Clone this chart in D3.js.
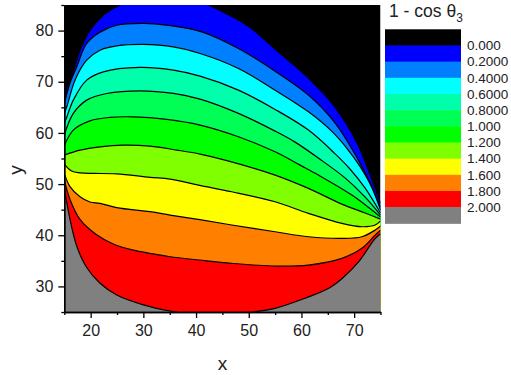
<!DOCTYPE html>
<html>
<head>
<meta charset="utf-8">
<script src="https://cdn.jsdelivr.net/npm/d3@7"></script>
<style>
  body { margin: 0; background: #fff; }
  svg { display: block; font-family: Arial, "Liberation Sans", sans-serif; }
</style>
</head>
<body>
<svg id="chart" width="511" height="375"></svg>
<script>

// contour levels of 1 - cos θ3 (legend labels as printed)
const levelLabels = ["0.000", "0.2000", "0.4000", "0.6000", "0.8000", "1.000",
                     "1.200", "1.400", "1.600", "1.800", "2.000"];

// band colours, from below 0.000 (black) to above 2.000 (gray)
const bandColors = ["#000000", "#0000ff", "#0080ff", "#00ffff", "#00ffaa", "#00ff55",
                    "#00ff00", "#80ff00", "#ffff00", "#ff8000", "#ff0000", "#808080"];

// contour lines, [x, y] pairs
const line000 = [[15, 66.8], [15.5, 68.8], [16.4, 71.0], [18.0, 76.2], [19.9, 80.1], [22.4, 83.0],
  [25.6, 85.0], [30, 86.5], [35, 86.8], [40, 86.0], [43.61, 84.4], [49.93, 80.86], [55, 76.37],
  [61.33, 70.7], [66.4, 65.0], [70.58, 58.0], [73.04, 51.76], [75, 46.3]];
const line020 = [[15, 65.5], [16.0, 69.5], [17.35, 72.9], [19.25, 77.5], [21.78, 79.7], [24.95, 81.05],
  [30.0, 81.4], [34.44, 81.05], [41.09, 79.75], [48.04, 76.5], [55.0, 72.07], [61.33, 67.38],
  [66.4, 61.91], [70.58, 55.08], [73.04, 50.2], [75, 45.5]];
const line040 = [[15, 63.8], [15.5, 65.2], [17.03, 70.31], [19.25, 74.22], [21.78, 76.17], [24.95, 77.0],
  [30.0, 77.29], [35.7, 76.82], [40.76, 75.53], [48.04, 72.6], [55.0, 68.36], [61.33, 64.12],
  [65.77, 60.3], [68.62, 57.0], [71.14, 53.4], [73.42, 49.2], [75, 44.9]];
const line060 = [[15, 61.9], [15.3, 62.6], [16.71, 66.41], [19.25, 70.31], [22.4, 71.93], [29.37, 72.79],
  [35.7, 72.27], [40.76, 71.09], [48.04, 68.36], [55.0, 64.59], [61.33, 60.55], [66.4, 55.9],
  [69.24, 52.9], [72.09, 49.2], [75, 44.34]];
const line080 = [[15, 59.6], [16.71, 63.81], [19.25, 66.41], [23.05, 67.71], [29.37, 68.22], [35.7, 67.71],
  [40.76, 66.6], [48.04, 63.81], [55.0, 60.35], [58.8, 58.2], [63.2, 55.08], [68.32, 51.17],
  [72.09, 47.46], [75, 43.95]];
const line100 = [[15, 57.5], [16.71, 60.55], [19.88, 62.36], [23.68, 63.03], [28.1, 63.14], [34.44, 62.64],
  [40.76, 61.52], [48.04, 59.24], [55.0, 56.31], [59.75, 53.7], [63.22, 51.76], [69.57, 47.85],
  [73.36, 44.92], [75, 43.55]];
const line120 = [[15, 55.66], [17.98, 56.64], [21.78, 57.29], [26.2, 57.62], [31.27, 57.42], [36.34, 56.64],
  [40.76, 55.86], [45.51, 54.69], [55.0, 51.76], [61.33, 49.16], [67.67, 46.09], [72.09, 44.34],
  [75, 43.16]];
const line140 = [[15, 53.9], [16.4, 52.54], [17.98, 52.2], [20.51, 52.09], [24.95, 52.0], [31.27, 51.31],
  [35.07, 50.98], [40.44, 49.8], [46.78, 48.5], [55.0, 46.54], [61.33, 44.28], [67.67, 42.32],
  [71.46, 41.66], [74.0, 41.99], [75, 42.8]];
const line160 = [[15, 52.1], [16.08, 49.5], [17.98, 47.52], [19.88, 46.5], [21.78, 46.23], [24.95, 45.4],
  [31.27, 44.6], [35.07, 43.95], [40.44, 43.1], [46.78, 42.0], [55.0, 40.68], [61.33, 39.71],
  [67.67, 39.39], [71.46, 39.71], [74.0, 41.02], [75, 41.8]];
const line180 = [[15, 50.8], [16.08, 47.0], [17.98, 43.1], [21.0, 40.2], [24.3, 38.3], [28.1, 37.1],
  [31.27, 36.46], [35.07, 35.8], [40.6, 35.16], [46.78, 34.51], [55.0, 33.98], [61.33, 34.18],
  [67.67, 35.49], [71.46, 37.44], [74.0, 40.04], [75, 41.0]];
const line200 = [[15, 49.2], [16.08, 43.1], [17.35, 37.9], [19.25, 33.7], [21.78, 30.61], [24.95, 28.32],
  [30.0, 26.4], [35.07, 25.2], [40, 24.5], [45, 24.3], [50.83, 25.0], [55.0, 25.72], [59.75, 27.34],
  [65.45, 29.8], [67.67, 31.5], [71.0, 35.0], [73.85, 39.2], [75, 40.3]];

const contours = [line000, line020, line040, line060, line080, line100,
                  line120, line140, line160, line180, line200];

const xTicks = [20, 30, 40, 50, 60, 70];
const xMinor = [15, 25, 35, 45, 55, 65, 75];
const yTicks = [30, 40, 50, 60, 70, 80];
const yMinor = [25, 35, 45, 55, 65, 75, 85];

let svg = d3.select("#chart");

let plotLeft = 64.3, plotRight = 380.5, plotTop = 5, plotBottom = 312;

let x = d3.scaleLinear().domain([15, 75]).range([plotLeft, plotRight]);
let y = d3.scaleLinear().domain([25, 85]).range([plotBottom, plotTop]);

svg.append("clipPath")
  .attr("id", "plotclip")
  .append("rect")
  .attr("x", plotLeft).attr("y", plotTop)
  .attr("width", plotRight - plotLeft).attr("height", plotBottom - plotTop);

let plot = svg.append("g").attr("clip-path", "url(#plotclip)");

// whole plot starts black (below level 0)
plot.append("rect")
  .attr("x", plotLeft).attr("y", plotTop)
  .attr("width", plotRight - plotLeft).attr("height", plotBottom - plotTop)
  .attr("fill", bandColors[0]);

// each contour paints everything beneath it with the next band colour
let area = d3.area()
  .x((d) => x(d[0]))
  .y0(plotBottom + 20)
  .y1((d) => y(d[1]))
  .curve(d3.curveCatmullRom.alpha(0.5));

plot.selectAll(".band")
  .data(contours)
  .enter().append("path")
  .attr("class", "band")
  .attr("fill", (d, i) => bandColors[i + 1])
  .attr("d", area);

let line = d3.line()
  .x((d) => x(d[0]))
  .y((d) => y(d[1]))
  .curve(d3.curveCatmullRom.alpha(0.5));

plot.selectAll(".contour")
  .data(contours)
  .enter().append("path")
  .attr("class", "contour")
  .attr("fill", "none")
  .attr("stroke", "#000")
  .attr("stroke-width", 1.2)
  .attr("d", line);

// axes
function styleAxis(g) {
  g.select(".domain").attr("stroke", "#000").attr("stroke-width", 1.3);
  g.selectAll(".tick line").attr("stroke", "#000").attr("stroke-width", 1.3);
  g.selectAll("text").attr("font-size", 16).attr("fill", "#222")
    .attr("font-family", "Arial, 'Liberation Sans', sans-serif");
}

svg.append("g")
  .attr("transform", "translate(0," + plotBottom + ")")
  .call(d3.axisBottom(x).tickValues(xMinor).tickSize(3).tickSizeOuter(0).tickFormat(""))
  .call(styleAxis);
svg.append("g")
  .attr("transform", "translate(0," + plotBottom + ")")
  .call(d3.axisBottom(x).tickValues(xTicks).tickSize(6).tickSizeOuter(0).tickPadding(7))
  .call(styleAxis);

svg.append("g")
  .attr("transform", "translate(" + plotLeft + ",0)")
  .call(d3.axisLeft(y).tickValues(yMinor).tickSize(3).tickSizeOuter(0).tickFormat(""))
  .call(styleAxis);
svg.append("g")
  .attr("transform", "translate(" + plotLeft + ",0)")
  .call(d3.axisLeft(y).tickValues(yTicks).tickSize(6).tickSizeOuter(0).tickPadding(5))
  .call(styleAxis);

svg.append("text")
  .attr("x", (plotLeft + plotRight) / 2).attr("y", 370)
  .attr("text-anchor", "middle")
  .attr("font-size", 19).attr("fill", "#222")
  .text("x");

svg.append("text")
  .attr("transform", "translate(21.5,170)rotate(-90)")
  .attr("text-anchor", "middle")
  .attr("font-size", 19).attr("fill", "#222")
  .text("y");

// colour scale legend
let legendTop = 29.3, bandH = 16.17, legendX = 385, legendW = 76;

let title = svg.append("text")
  .attr("x", 389).attr("y", 17)
  .attr("font-size", 17.5).attr("fill", "#222")
  .text("1 - cos θ");
title.append("tspan")
  .attr("font-size", 12)
  .attr("dy", 5)
  .text("3");

svg.selectAll(".key")
  .data(bandColors)
  .enter().append("rect")
  .attr("class", "key")
  .attr("x", legendX)
  .attr("y", (d, i) => legendTop + i * bandH)
  .attr("width", legendW)
  .attr("height", bandH + 0.5)
  .attr("fill", (d) => d);

svg.selectAll(".keylabel")
  .data(levelLabels)
  .enter().append("text")
  .attr("class", "keylabel")
  .attr("x", 467)
  .attr("y", (d, i) => legendTop + (i + 1) * bandH + 4.8)
  .attr("font-size", 13.5).attr("fill", "#222")
  .text((d) => d);

</script>
</body>
</html>
